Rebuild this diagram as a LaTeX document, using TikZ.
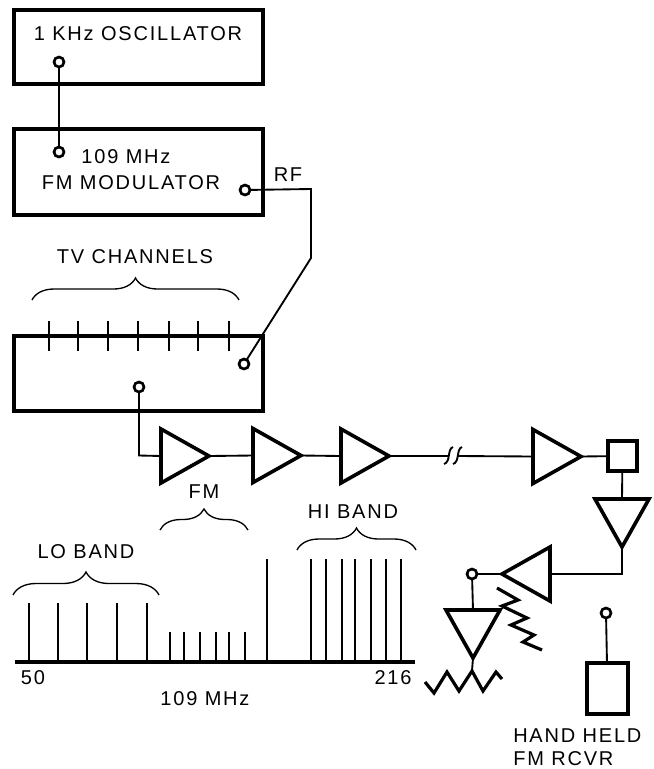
\documentclass[tikz,border=0pt]{standalone}
\usepackage{fontspec}
\setmainfont{Liberation Sans}
\newfontfamily\labelfont[LetterSpace=9]{Liberation Sans}
\usetikzlibrary{shapes.geometric,decorations.pathreplacing}
\tikzset{
  unitbox/.style={draw,line width=2.7pt,rectangle,inner sep=0pt,outer sep=0pt},
  amp/.style={draw,line width=2.7pt,isosceles triangle,isosceles triangle stretches,
    minimum width=54*0.75pt,minimum height=48*0.75pt,inner sep=0pt,outer sep=0pt,
    shape border rotate=#1,anchor=lower side},
  amp/.default=0,
  port/.style={draw,line width=2pt,circle,minimum size=7.5pt,inner sep=0pt,outer sep=0pt,fill=white},
  wire/.style={line width=1.4pt},
  lbl/.style={font=\fontsize{15pt}{18pt}\labelfont,inner sep=0pt},
  bandbrace/.style={line width=1pt,decorate,decoration={brace,amplitude=#1*0.75pt}},
  antenna/.style={line width=2.4pt,line join=miter},
}
\begin{document}
\begin{tikzpicture}[x=0.75pt,y=-0.75pt]
  \useasboundingbox (0,0) rectangle (654,769);
  % boxes
  \node[unitbox,minimum width=249*0.75pt,minimum height=74*0.75pt] (osc) at (138.5,47) {};
  \node[unitbox,minimum width=249*0.75pt,minimum height=86*0.75pt] (mod) at (138.5,172) {};
  \node[unitbox,minimum width=249*0.75pt,minimum height=75*0.75pt] (chan) at (138.5,373.5) {};
  \node[unitbox,minimum width=29*0.75pt,minimum height=30*0.75pt,fill=white] (mixer) at (622.5,456) {};
  \node[unitbox,minimum width=41*0.75pt,minimum height=51*0.75pt] (rcvr) at (607.5,688.5) {};
  \node[lbl] (osclabel) at (138,34) {1 KHz OSCILLATOR};
  \node[lbl] (modlabela) at (126,157) {109 MHz};
  \node[lbl] (modlabelb) at (131,183) {FM MODULATOR};
  \node[lbl] (rflabel) at (288,175) {RF};
  \node[lbl] (tvlabel) at (135,257) {TV CHANNELS};
  % ports
  \node[port] (oscout) at (59,62) {};
  \node[port] (modin) at (59,152) {};
  \node[port] (modout) at (245,190) {};
  \node[port] (chanin) at (244,364) {};
  \node[port] (chanout) at (139,387) {};
  \node[port] (split) at (472,574) {};
  \node[port] (rcvrant) at (606,613) {};
  % amplifiers
  \node[amp] (ampa) at (161,456) {};
  \node[amp] (ampb) at (253,455.5) {};
  \node[amp] (ampc) at (341,456) {};
  \node[amp] (ampd) at (533,456.5) {};
  \node[amp=-90] (ampe) at (622,499) {};
  \node[amp=180] (ampf) at (550,574) {};
  \node[amp=-90] (ampg) at (473,610) {};
  % break in the cable
  \coordinate (cutl) at (449,456);
  \coordinate (cutr) at (458,456);
  \coordinate (rfbend) at (311,189);
  \coordinate (rfdiag) at (311,258);
  \coordinate (chanbend) at (139,455.5);
  \coordinate (ampebend) at (622,574);
  % connectors
  \draw[wire] (oscout) -- (modin);
  \draw[wire] (modout) -- (rfbend) -- (rfdiag) -- (chanin);
  \draw[wire] (chanout) -- (chanbend) -- (ampa.lower side);
  \draw[wire] (ampa.apex) -- (ampb.lower side);
  \draw[wire] (ampb.apex) -- (ampc.lower side);
  \draw[wire] (ampc.apex) -- (cutl);
  \draw[wire] (cutr) -- (ampd.lower side);
  \draw[wire] (ampd.apex) -- (mixer);
  \draw[wire] (mixer) -- (ampe.lower side);
  \draw[wire] (ampe.apex) -- (ampebend) -- (ampf.lower side);
  \draw[wire] (ampf.apex) -- (split);
  \draw[wire] (split) -- (ampg.lower side);
  \draw[wire] (rcvrant) -- (rcvr);
  \draw[wire] (444,464) .. controls (451,462) and (447,449) .. (453,447);
  \draw[wire] (453,464) .. controls (460,462) and (456,449) .. (462,447);
  % channel ticks
  \foreach \x in {49,78,108,138,169,198,229}
    \draw[line width=1.2pt] (\x,321) -- (\x,351);
  \draw[bandbrace=22] (32,300) -- (239,300);
  % antennas
  \coordinate (zigtop) at (472,671);
  \draw[wire] (ampg.apex) -- (zigtop);
  \draw[antenna] (425,682) -- (434,693) -- (447,672) -- (459,691) -- (zigtop) -- (483,691) -- (496,672) -- (502,679);
  \draw[antenna] (497,588) -- (518,600) -- (502,606) -- (527,618) -- (511,625) -- (534,635) -- (523,642) -- (542,650);
  % spectrum
  \draw[line width=2.4pt] (15,662) -- (415,662);
  \foreach \x in {29,58,87,117,147}
    \draw[line width=1.2pt] (\x,662) -- (\x,603);
  \foreach \x in {170,184,200,216,229,245}
    \draw[line width=1.2pt] (\x,662) -- (\x,632);
  \draw[line width=1.2pt] (267,662) -- (267,559);
  \foreach \x in {311,326,342,355,371,386,401}
    \draw[line width=1.2pt] (\x,662) -- (\x,559);
  \draw[bandbrace=23] (13,595) -- (159,595);
  \draw[bandbrace=21] (160,530) -- (248,530);
  \draw[bandbrace=22] (297,550) -- (416,550);
  \node[lbl] (lolabel) at (86,552) {LO BAND};
  \node[lbl] (fmlabel) at (204,492) {FM};
  \node[lbl] (hilabel) at (353,512) {HI BAND};
  \node[lbl] (lowend) at (33,678) {50};
  \node[lbl] (highend) at (393,678) {216};
  \node[lbl] (fmfreq) at (205,699) {109 MHz};
  \node[lbl,anchor=base west] (rcvrlabela) at (513,742) {HAND HELD};
  \node[lbl,anchor=base west] (rcvrlabelb) at (513,765) {FM RCVR};
\end{tikzpicture}
\end{document}
